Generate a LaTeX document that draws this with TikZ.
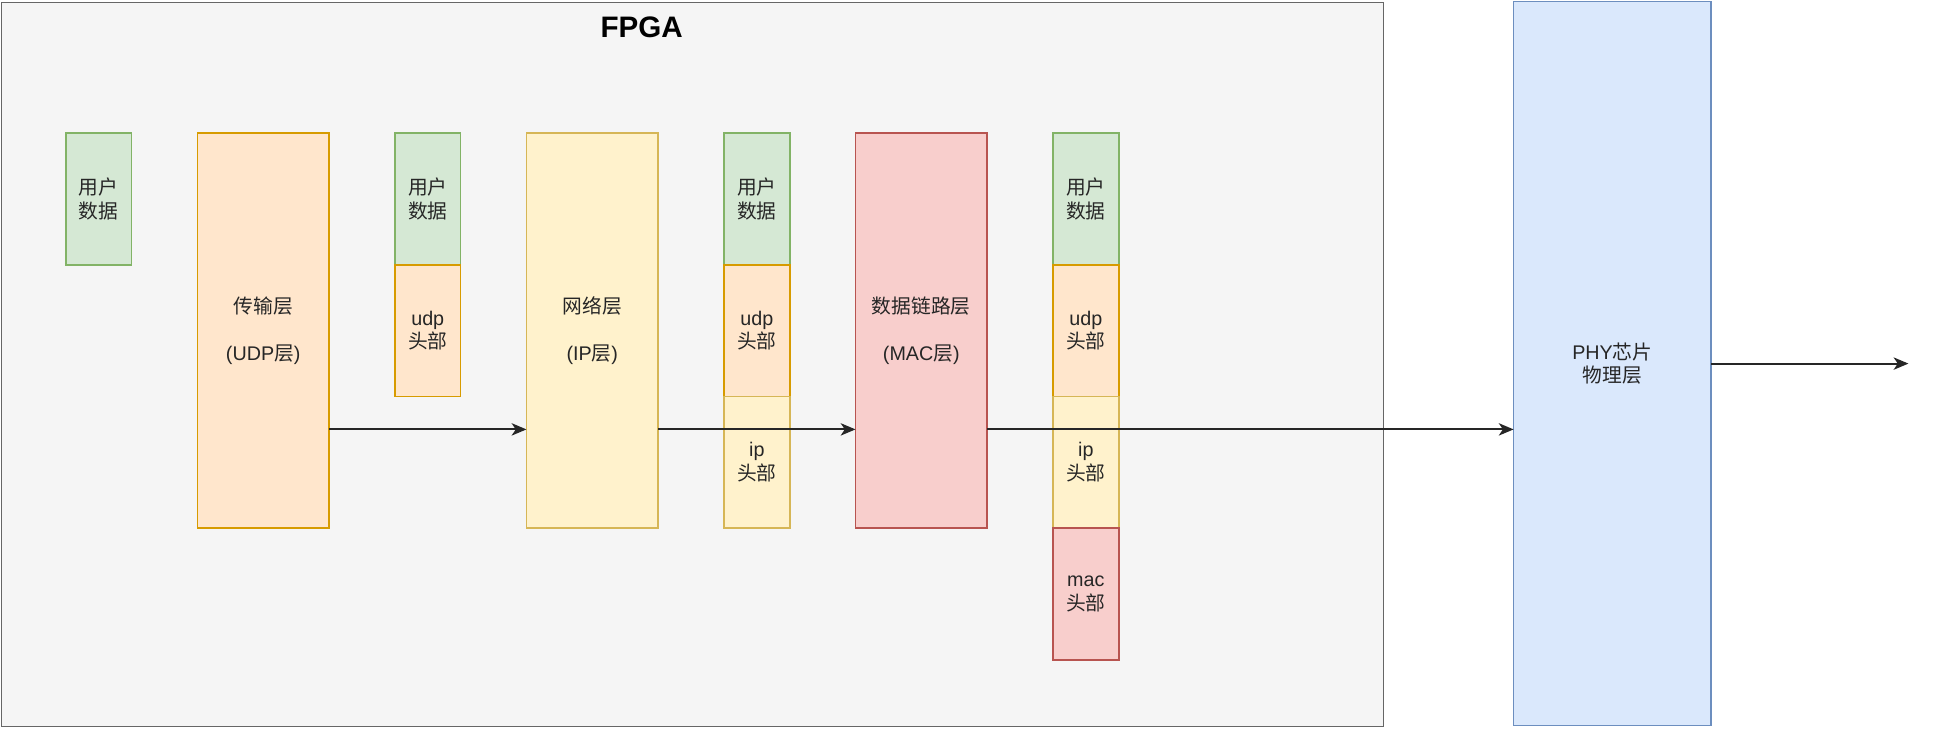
\documentclass[tikz,border=0pt]{standalone}
\usepackage{fontspec}
\setmainfont{Liberation Sans}
\newfontfamily\cjk{Noto Sans CJK SC}
\newcommand{\zh}[1]{{\cjk #1}}
\usetikzlibrary{positioning, arrows.meta}

\definecolor{fpgafill}{HTML}{F5F5F5}
\definecolor{fpgaline}{HTML}{666666}
\definecolor{greenfill}{HTML}{D5E8D4}
\definecolor{greenline}{HTML}{82B366}
\definecolor{orangefill}{HTML}{FFE6CC}
\definecolor{orangeline}{HTML}{D79B00}
\definecolor{yellowfill}{HTML}{FFF2CC}
\definecolor{yellowline}{HTML}{D6B656}
\definecolor{redfill}{HTML}{F8CECC}
\definecolor{redline}{HTML}{B85450}
\definecolor{bluefill}{HTML}{DAE8FC}
\definecolor{blueline}{HTML}{6C8EBF}

\tikzset{
	cell/.style={draw, line width=1pt, inner sep=0pt, outer sep=0pt, align=center,
		font=\fontsize{12}{14.4}\selectfont, text=black!85},
	cellsmall/.style={cell, minimum width=40pt, minimum height=80pt},
	layerbox/.style={cell, anchor=north west, minimum width=80pt, minimum height=240pt},
	userdata/.style={cellsmall, fill=greenfill, draw=greenline},
	udphead/.style={cellsmall, fill=orangefill, draw=orangeline},
	iphead/.style={cellsmall, fill=yellowfill, draw=yellowline},
	machead/.style={cellsmall, fill=redfill, draw=redline},
	flow/.style={-{Stealth[length=9pt, width=7.5pt, inset=2.5pt]}, line width=1.2pt, black!85}
}

\begin{document}
\begin{tikzpicture}[x=1pt, y=-1pt]
	\useasboundingbox (0,0) rectangle (1181,449.2);
	% FPGA area
	\node[draw=fpgaline, fill=fpgafill, line width=1pt, anchor=north west, inner sep=0pt,
		minimum width=840pt, minimum height=440pt] (fpga) at (0.5,1) {};
	\node[font=\bfseries\fontsize{18}{21}\selectfont] (fpgatitle) at (390,16.4) {FPGA};
	% user data
	\node[userdata, anchor=north west] (data0) at (40,81) {\zh{用户}\\\zh{数据}};
	% transport layer
	\node[layerbox, fill=orangefill, draw=orangeline] (udp) at (120,81)
		{\zh{传输层}\\[14.4pt](UDP\zh{层})};
	\node[userdata, anchor=north west] (data1) at (240,81) {\zh{用户}\\\zh{数据}};
	\node[udphead, below=0pt of data1] (udph1) {udp\\\zh{头部}};
	% network layer
	\node[layerbox, fill=yellowfill, draw=yellowline] (ipl) at (320,81)
		{\zh{网络层}\\[14.4pt](IP\zh{层})};
	\node[userdata, anchor=north west] (data2) at (440,81) {\zh{用户}\\\zh{数据}};
	\node[udphead, below=0pt of data2] (udph2) {udp\\\zh{头部}};
	\node[iphead, below=0pt of udph2] (iph2) {ip\\\zh{头部}};
	% data link layer
	\node[layerbox, fill=redfill, draw=redline] (mac) at (520,81)
		{\zh{数据链路层}\\[14.4pt](MAC\zh{层})};
	\node[userdata, anchor=north west] (data3) at (640,81) {\zh{用户}\\\zh{数据}};
	\node[udphead, below=0pt of data3] (udph3) {udp\\\zh{头部}};
	\node[iphead, below=0pt of udph3] (iph3) {ip\\\zh{头部}};
	\node[machead, below=0pt of iph3] (mach3) {mac\\\zh{头部}};
	% PHY
	\node[cell, fill=bluefill, draw=blueline, anchor=north west,
		minimum width=120pt, minimum height=440pt] (phy) at (920,1)
		{PHY\zh{芯片}\\\zh{物理层}};
	\coordinate (wire) at (1160,221);
	\coordinate (tap) at ([yshift=-60pt]mac.east);

	\draw[flow] ([yshift=-60pt]udp.east) -- ([yshift=-60pt]ipl.west);
	\draw[flow] ([yshift=-60pt]ipl.east) -- ([yshift=-60pt]mac.west);
	\draw[flow] (tap) -- (tap -| phy.west);
	\draw[flow] (phy.east) -- (wire);
\end{tikzpicture}
\end{document}
